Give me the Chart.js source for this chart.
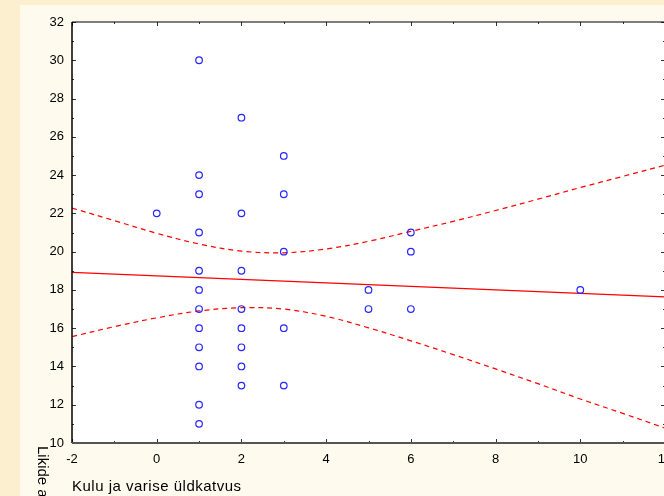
<!DOCTYPE html>
<html>
<head>
<meta charset="utf-8">
<script src="https://cdn.jsdelivr.net/npm/chart.js@4.4.0/dist/chart.umd.min.js"></script>
<style>
  html, body { margin: 0; padding: 0; overflow: hidden; background: #FCEFD0; }
  #wrap { width: 700px; height: 496px; position: relative; }
</style>
</head>
<body>
<div id="wrap"><canvas id="c"></canvas></div>
<script>
// Observations (x = Kulu ja varise üldkatvus, y = Likide arv)
const obsX = [0,
  1,1,1,1,1,1,1,1,1,1,1,1,
  2,2,2,2,2,2,2,2,
  3,3,3,3,3,
  5,5,
  6,6,6,
  10];
const obsY = [22,
  30,24,23,21,19,18,17,16,15,14,12,11,
  27,22,19,17,16,15,14,13,
  25,23,20,16,13,
  18,17,
  21,20,17,
  18];

// Regression line
const regX = [-2, 12];
const regY = [18.92, 17.64];

// Confidence band
const bandX = [-2,-1,0,1,2,3,4,5,6,7,8,9,10,11,12];
const bandUpper = [22.28,21.62,20.96,20.40,20.03,19.94,20.14,20.54,21.06,21.58,22.15,22.74,23.35,23.93,24.52];
const bandLower = [15.56,16.08,16.54,16.90,17.07,17.00,16.62,16.02,15.34,14.62,13.87,13.10,12.30,11.55,10.78];

// Axis ticks
const xTickVals = [-2,0,2,4,6,8,10,12];
const yTickVals = [10,12,14,16,18,20,22,24,26,28,30,32];
const xTitle = 'Kulu ja varise üldkatvus';
const yTitle = 'Likide arv';

const FONT = '"Liberation Sans", Arial, sans-serif';

const toPts = (xs, ys) => xs.map((x, i) => ({x: x, y: ys[i]}));

const framePlugin = {
  id: 'frame',
  beforeDraw(chart) {
    const ctx = chart.ctx, a = chart.chartArea;
    ctx.save();
    ctx.fillStyle = '#FCEFD0';
    ctx.fillRect(0, 0, chart.width, chart.height);
    ctx.fillStyle = '#FFFAEE';
    ctx.fillRect(20, 5, chart.width - 20, chart.height - 5);
    ctx.fillStyle = '#FFFFFF';
    ctx.fillRect(a.left, a.top, a.right - a.left, a.bottom - a.top);
    ctx.restore();
  },
  afterDraw(chart) {
    const ctx = chart.ctx, a = chart.chartArea;
    const xs = chart.scales.x, ys = chart.scales.y;
    ctx.save();
    // ticks (inside)
    ctx.lineWidth = 1;
    ctx.strokeStyle = '#333';
    for (let v = -2; v <= 12; v++) {
      const px = Math.round(xs.getPixelForValue(v)) + 0.5;
      const len = (v % 2 === 0) ? 4 : 2;
      ctx.beginPath();
      ctx.moveTo(px, a.bottom); ctx.lineTo(px, a.bottom - len);
      ctx.moveTo(px, a.top); ctx.lineTo(px, a.top + len);
      ctx.stroke();
    }
    for (let v = 10; v <= 32; v++) {
      const py = Math.round(ys.getPixelForValue(v)) + 0.5;
      const len = (v % 2 === 0) ? 4 : 2;
      ctx.beginPath();
      ctx.moveTo(a.left, py); ctx.lineTo(a.left + len, py);
      ctx.moveTo(a.right, py); ctx.lineTo(a.right - len, py);
      ctx.stroke();
    }
    // axis lines
    ctx.strokeStyle = '#000';
    ctx.lineWidth = 1.5;
    ctx.beginPath();
    ctx.moveTo(a.left, a.top); ctx.lineTo(a.left, a.bottom);
    ctx.stroke();
    ctx.lineWidth = 1.2;
    ctx.beginPath();
    ctx.moveTo(a.left, a.top); ctx.lineTo(a.right, a.top);
    ctx.stroke();
    ctx.strokeStyle = '#555';
    ctx.lineWidth = 2;
    ctx.beginPath();
    ctx.moveTo(a.left, a.bottom); ctx.lineTo(a.right, a.bottom);
    ctx.moveTo(a.right, a.top); ctx.lineTo(a.right, a.bottom);
    ctx.stroke();
    // titles
    ctx.fillStyle = '#000';
    ctx.font = '15px ' + FONT;
    ctx.textAlign = 'left';
    ctx.textBaseline = 'alphabetic';
    try { ctx.letterSpacing = '0.5px'; } catch (e) {}
    ctx.fillText(xTitle, a.left, 491);
    try { ctx.letterSpacing = '0px'; } catch (e) {}
    ctx.translate(42, 446);
    ctx.rotate(Math.PI / 2);
    ctx.textBaseline = 'middle';
    ctx.fillText(yTitle, 0, 0);
    ctx.restore();
  }
};

new Chart(document.getElementById('c'), {
  type: 'scatter',
  data: {
    datasets: [
      {
        data: toPts(obsX, obsY),
        showLine: false,
        pointStyle: 'circle',
        pointRadius: 3.3,
        pointBorderWidth: 1.2,
        borderColor: '#2626FF',
        backgroundColor: 'rgba(0,0,0,0)',
        order: 1
      },
      {
        data: toPts(regX, regY),
        showLine: true,
        pointRadius: 0,
        borderColor: '#FF0000',
        borderWidth: 1.2,
        order: 2
      },
      {
        data: toPts(bandX, bandUpper),
        showLine: true,
        pointRadius: 0,
        borderColor: '#FF0000',
        borderWidth: 1.2,
        borderDash: [5, 4],
        tension: 0.35,
        order: 3
      },
      {
        data: toPts(bandX, bandLower),
        showLine: true,
        pointRadius: 0,
        borderColor: '#FF0000',
        borderWidth: 1.2,
        borderDash: [5, 4],
        tension: 0.35,
        order: 3
      }
    ]
  },
  options: {
    responsive: true,
    maintainAspectRatio: false,
    animation: false,
    devicePixelRatio: 1,
    layout: { padding: { left: 0, top: 22, right: 35, bottom: 0 } },
    plugins: { legend: { display: false }, tooltip: { enabled: false }, title: { display: false } },
    scales: {
      x: {
        type: 'linear',
        min: -2, max: 12,
        afterBuildTicks(scale) { scale.ticks = xTickVals.map(v => ({value: v})); },
        afterFit(scale) { scale.height = 53; },
        ticks: { color: '#000', font: { family: FONT, size: 13 }, padding: 9, maxRotation: 0 },
        grid: { display: false, drawTicks: false },
        border: { display: false }
      },
      y: {
        type: 'linear',
        min: 10, max: 32,
        afterBuildTicks(scale) { scale.ticks = yTickVals.map(v => ({value: v})); },
        afterFit(scale) { scale.width = 72; },
        ticks: { color: '#000', font: { family: FONT, size: 13 }, padding: 8 },
        grid: { display: false, drawTicks: false },
        border: { display: false }
      }
    }
  },
  plugins: [framePlugin]
});
</script>
</body>
</html>
